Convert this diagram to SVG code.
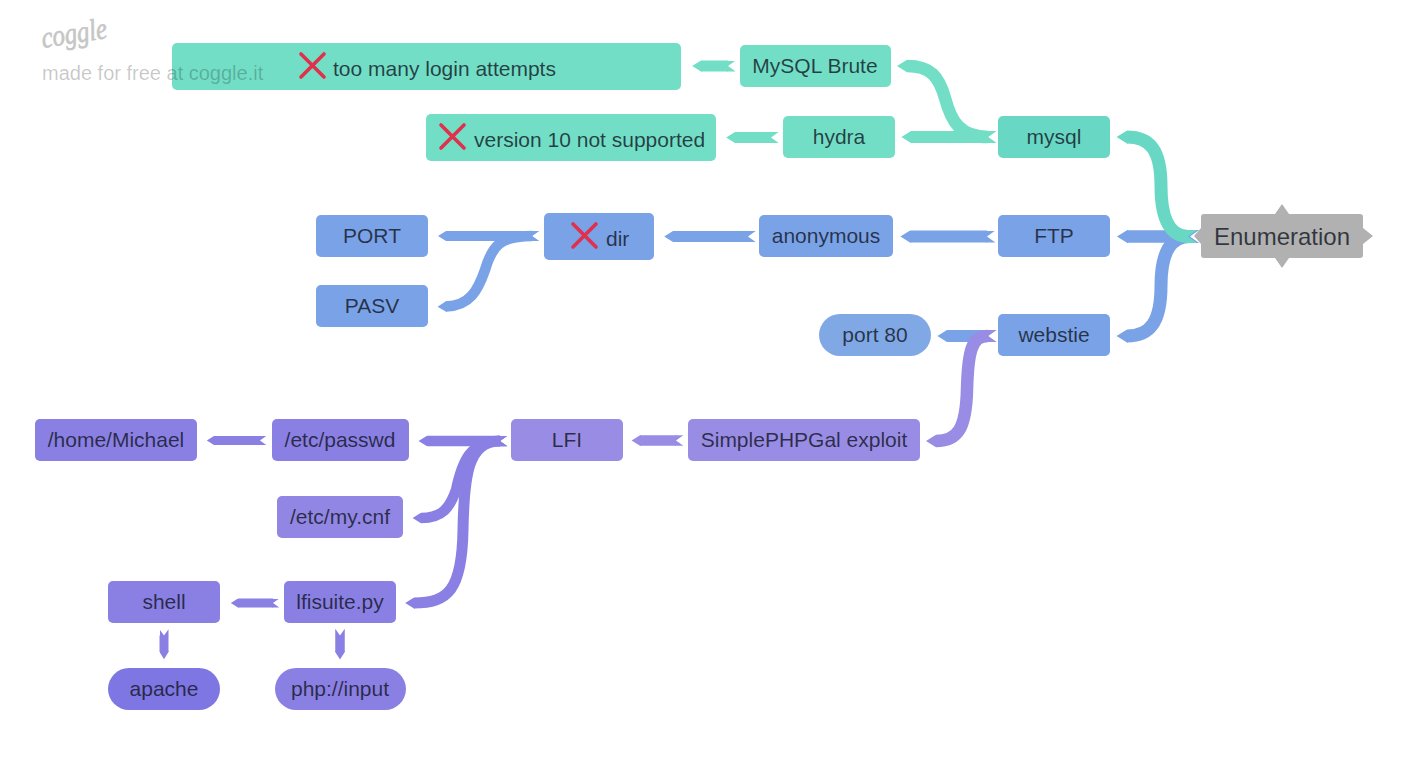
<svg xmlns="http://www.w3.org/2000/svg" width="1410" height="758" viewBox="0 0 1410 758">
<style>
text{font-family:"Liberation Sans",Arial,sans-serif;font-size:21px;fill:#10131f;fill-opacity:.78;text-anchor:middle}
.l{text-anchor:start}
.x{fill:none;stroke:#e0304c;stroke-width:3.6;stroke-linecap:round}
.c{fill:none}
.t1{fill:#72dec6}.s1{stroke:#72dec6}
.t2{fill:#68d8c4}.s2{stroke:#68d8c4}
.b{fill:#7aa2e6}.sb{stroke:#7aa2e6}
.p1{fill:#988ce4}.sp1{stroke:#988ce4}
.p2{fill:#8a80e3}.sp2{stroke:#8a80e3}
.m1{marker-start:url(#h1);marker-end:url(#n1)}
.m2{marker-start:url(#h2);marker-end:url(#n2)}
.mb{marker-start:url(#hb);marker-end:url(#nb)}
.mp1{marker-start:url(#hp1);marker-end:url(#np1)}
.mp2{marker-start:url(#hp2);marker-end:url(#np2)}
</style>
<defs>
<marker id="h1" viewBox="-10 -5 11 10" markerWidth="1.1" markerHeight="1" refX="0" refY="0" orient="auto"><path class="t1" d="M-8,0 0,-5 1,-5 1,5 0,5Z"/></marker>
<marker id="n1" viewBox="-1 -5 9 10" markerWidth=".9" markerHeight="1" refX="0" refY="0" orient="auto"><path class="t1" d="M-1,-5 7,-5 0,0 7,5 -1,5Z"/></marker>
<marker id="h2" viewBox="-10 -5 11 10" markerWidth="1.1" markerHeight="1" refX="0" refY="0" orient="auto"><path class="t2" d="M-8,0 0,-5 1,-5 1,5 0,5Z"/></marker>
<marker id="n2" viewBox="-1 -5 9 10" markerWidth=".9" markerHeight="1" refX="0" refY="0" orient="auto"><path class="t2" d="M-1,-5 7,-5 0,0 7,5 -1,5Z"/></marker>
<marker id="hb" viewBox="-10 -5 11 10" markerWidth="1.1" markerHeight="1" refX="0" refY="0" orient="auto"><path class="b" d="M-8,0 0,-5 1,-5 1,5 0,5Z"/></marker>
<marker id="nb" viewBox="-1 -5 9 10" markerWidth=".9" markerHeight="1" refX="0" refY="0" orient="auto"><path class="b" d="M-1,-5 7,-5 0,0 7,5 -1,5Z"/></marker>
<marker id="hp1" viewBox="-10 -5 11 10" markerWidth="1.1" markerHeight="1" refX="0" refY="0" orient="auto"><path class="p1" d="M-8,0 0,-5 1,-5 1,5 0,5Z"/></marker>
<marker id="np1" viewBox="-1 -5 9 10" markerWidth=".9" markerHeight="1" refX="0" refY="0" orient="auto"><path class="p1" d="M-1,-5 7,-5 0,0 7,5 -1,5Z"/></marker>
<marker id="hp2" viewBox="-10 -5 11 10" markerWidth="1.1" markerHeight="1" refX="0" refY="0" orient="auto"><path class="p2" d="M-8,0 0,-5 1,-5 1,5 0,5Z"/></marker>
<marker id="np2" viewBox="-1 -5 9 10" markerWidth=".9" markerHeight="1" refX="0" refY="0" orient="auto"><path class="p2" d="M-1,-5 7,-5 0,0 7,5 -1,5Z"/></marker>
</defs>
<rect width="1410" height="758" fill="#fff"/>
<g id="connectors">
<path class="c s1 m1" stroke-width="11" d="M701,66H728"/>
<path class="c s1 m1" stroke-width="11" d="M735,137.500H771"/>
<path class="c s1 m1" stroke-width="12" d="M911,137H988"/>
<path class="c s1 m1" stroke-width="12.500" d="M907,66C931,66 939,77 945,98C951,121 960,137 988,137"/>
<path class="c sb mb" stroke-width="13" d="M1127,336C1150,336 1161,322 1161,286C1161,250 1172,236.500 1190,236.500"/>
<path class="c sb mb" stroke-width="12.500" d="M1127,236.500H1185"/>
<path class="c s2 m2" stroke-width="13" d="M1127,137C1150,137 1161,150 1161,186C1161,222 1172,236.500 1188,236.500"/>
<path class="c sb mb" stroke-width="12" d="M910,236.500H987"/>
<path class="c sb mb" stroke-width="11" d="M673,236.500H748"/>
<path class="c sb mb" stroke-width="10" d="M446,236H532"/>
<path class="c sb mb" stroke-width="10.500" d="M446,306.500C470,306 478,290 485,270C492,246 500,236 532,236"/>
<path class="c sb mb" stroke-width="12" d="M947,336H988"/>
<path class="c sp1 mp1" stroke-width="12.500" d="M936,441C958,441 966,428 967,390C968,350 972,336 988,336"/>
<path class="c sp1 mp1" stroke-width="10.500" d="M640,440.500H676"/>
<path class="c sp2 mp2" stroke-width="10.500" d="M427,441H500"/>
<path class="c sp2 mp2" stroke-width="9" d="M214,440.500H260"/>
<path class="c sp2 mp2" stroke-width="10.500" d="M421,518C443,518 450,507 456,490C462,462 470,441 500,441"/>
<path class="c sp2 mp2" stroke-width="11" d="M414,603C448,603 462,590 463,530C464,475 468,441 500,441"/>
<path class="c sp2 mp2" stroke-width="9" d="M238,603H273"/>
<path class="c sp2 mp2" stroke-width="9.500" d="M340,652V635.500"/>
<path class="c sp2 mp2" stroke-width="9" d="M164,652V635.500"/>
</g>
<g id="n-too-many"><rect x="172" y="43" width="509" height="47" rx="5" fill="#72dec6"/><path class="x" d="M301,54 324,77M324,54 301,77"/><text class="l" x="333" y="76">too many login attempts</text></g>
<g id="n-mysql-brute"><rect x="740" y="45" width="151" height="42" rx="5" fill="#72dec6"/><text x="815" y="73">MySQL Brute</text></g>
<g id="n-version"><rect x="426" y="114" width="290" height="47" rx="5" fill="#72dec6"/><path class="x" d="M441,125 464,148M464,125 441,148"/><text class="l" x="474" y="147">version 10 not supported</text></g>
<g id="n-hydra"><rect x="783" y="116" width="112" height="42" rx="5" fill="#72dec6"/><text x="839" y="144">hydra</text></g>
<g id="n-mysql"><rect x="998" y="116" width="112" height="42" rx="5" fill="#68d8c4"/><text x="1054" y="144">mysql</text></g>
<g id="n-port"><rect x="316" y="215" width="112" height="42" rx="5" fill="#7aa2e6"/><text x="372" y="243">PORT</text></g>
<g id="n-pasv"><rect x="316" y="285" width="112" height="42" rx="5" fill="#7aa2e6"/><text x="372" y="313">PASV</text></g>
<g id="n-dir"><rect x="544" y="213" width="110" height="47" rx="5" fill="#7aa2e6"/><path class="x" d="M573,224 596,247M596,224 573,247"/><text class="l" x="606" y="246">dir</text></g>
<g id="n-anonymous"><rect x="759" y="215" width="134" height="42" rx="5" fill="#7aa2e6"/><text x="826" y="243">anonymous</text></g>
<g id="n-ftp"><rect x="998" y="215" width="112" height="42" rx="5" fill="#7aa2e6"/><text x="1054" y="243">FTP</text></g>
<g id="n-port80"><rect x="819" y="314" width="112" height="42" rx="21" fill="#7fa8e4"/><text x="875" y="342">port 80</text></g>
<g id="n-webstie"><rect x="998" y="314" width="112" height="42" rx="5" fill="#7aa2e6"/><text x="1054" y="342">webstie</text></g>
<g id="n-home"><rect x="35" y="419" width="162" height="42" rx="5" fill="#8a80e3"/><text x="116" y="447">/home/Michael</text></g>
<g id="n-passwd"><rect x="272" y="419" width="137" height="42" rx="5" fill="#8a80e3"/><text x="340" y="447">/etc/passwd</text></g>
<g id="n-lfi"><rect x="511" y="419" width="112" height="42" rx="5" fill="#988ce4"/><text x="567" y="447">LFI</text></g>
<g id="n-simple"><rect x="688" y="419" width="232" height="42" rx="5" fill="#988ce4"/><text x="804" y="447">SimplePHPGal exploit</text></g>
<g id="n-mycnf"><rect x="277" y="496" width="126" height="42" rx="5" fill="#9186e4"/><text x="340" y="524">/etc/my.cnf</text></g>
<g id="n-shell"><rect x="108" y="581" width="112" height="42" rx="5" fill="#8a80e3"/><text x="164" y="609">shell</text></g>
<g id="n-lfisuite"><rect x="284" y="581" width="112" height="42" rx="5" fill="#8a80e3"/><text x="340" y="609">lfisuite.py</text></g>
<g id="n-apache"><rect x="108" y="668" width="112" height="42" rx="21" fill="#7e76e2"/><text x="164" y="696">apache</text></g>
<g id="n-php"><rect x="275" y="668" width="131" height="42" rx="21" fill="#8a80e3"/><text x="340" y="696">php://input</text></g>
<g id="n-enumeration"><path fill="#b1b1b1" d="M1204,214H1275L1282,204 1289,214H1360Q1363,214 1363,217V228L1373,236 1363,244V255Q1363,258 1360,258H1289L1282,268 1275,258H1204Q1201,258 1201,255V244L1194,236 1201,228V217Q1201,214 1204,214Z"/><text x="1282" y="244.500" style="font-size:24px">Enumeration</text></g>
<g id="watermark"><text class="l" x="43" y="48" transform="rotate(-9 43 48)" textLength="66" lengthAdjust="spacingAndGlyphs" style="font-family:'Liberation Serif',serif;font-style:italic;font-size:30px;fill:#c6c6c6;fill-opacity:1;stroke:#c6c6c6;stroke-width:.7">coggle</text><text class="l" x="42" y="80" style="font-size:20px;fill:#000;fill-opacity:.22">made for free at coggle.it</text></g>
</svg>
